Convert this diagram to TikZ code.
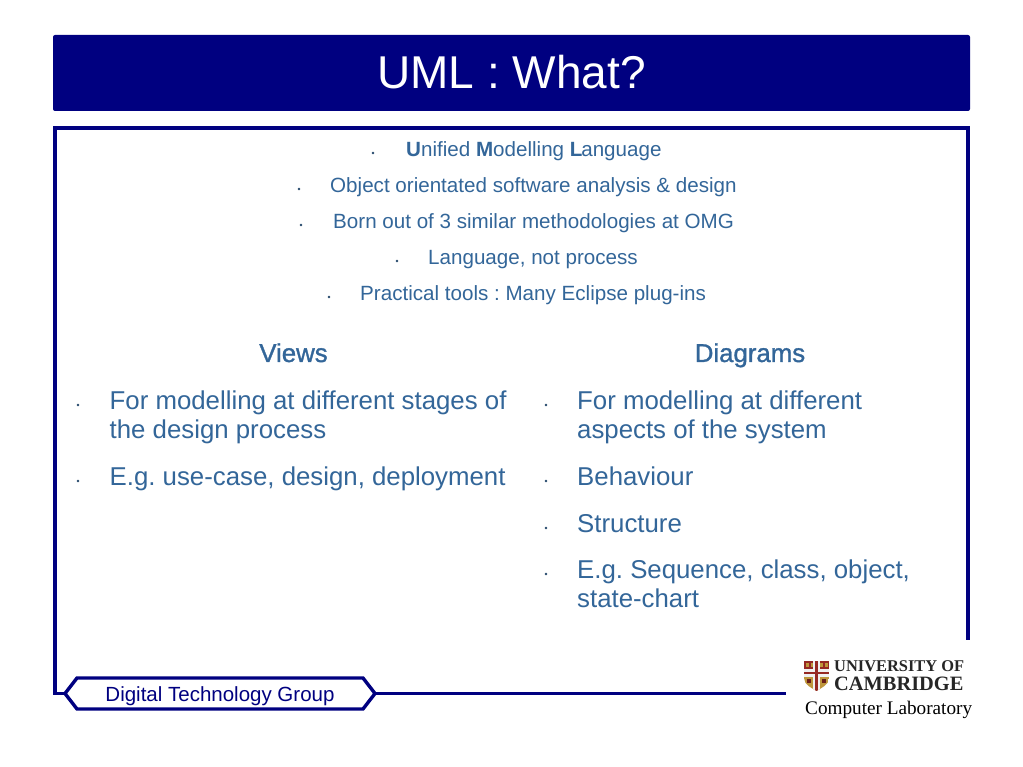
\documentclass[tikz,border=0pt]{standalone}
\usepackage{fontspec}
\setmainfont{Liberation Sans}
\newfontfamily\seriffont{Liberation Serif}
\newfontfamily\fakebold[FakeBold=1.2]{Liberation Sans}
\definecolor{navy}{RGB}{0,0,128}
\definecolor{body}{RGB}{51,102,153}
\definecolor{gold}{RGB}{190,150,60}
\definecolor{shieldred}{RGB}{150,40,35}
\newcommand{\fs}[1]{\fontsize{#1}{#1}\selectfont\frenchspacing}
\tikzset{
  x=1pt,y=-1pt,
  small/.style={anchor=base west,inner sep=0,text=body,font=\fs{20.6}},
  big/.style={anchor=base west,inner sep=0,text=body,font=\fs{25.8}},
  head/.style={anchor=base,inner sep=0,text=body,font=\fakebold\fs{25.8}},
  dot/.style={circle,fill=body!70!black,inner sep=0,minimum size=2.6pt},
  frame/.style={draw=navy,line width=3.4pt,line join=miter},
}
\begin{document}
\begin{tikzpicture}
\useasboundingbox (0,0) rectangle (1023,767);
\fill[white] (0,0) rectangle (1023,767);
\fill[navy,rounded corners=2pt] (53,35) rectangle (970,111);
\node[anchor=base,inner sep=0,text=white,font=\fs{46}] (title) at (511.5,89) {UML : What?};

% top list
\node[dot] (b1) at (373,153) {};
\node[small] (t1) at (406,157) {\textbf{U}nified \textbf{M}odelling \textbf{L}\kern-1.2pt anguage};
\node[dot] (b2) at (299,189) {};
\node[small] (t2) at (330,193) {Object orientated software analysis \& design};
\node[dot] (b3) at (301,225) {};
\node[small] (t3) at (333,229) {Born out of 3 similar methodologies at OMG};
\node[dot] (b4) at (397,261) {};
\node[small] (t4) at (428,265) {Language, not process};
\node[dot] (b5) at (329,297) {};
\node[small] (t5) at (360,301) {Practical tools : Many Eclipse plug-ins};

% columns
\node[head] (vh) at (293.5,362) {Views};
\node[head] (dh) at (750,362) {Diagrams};

\node[dot] (vb1) at (78,405) {};
\node[big] (v1) at (109.5,409) {For modelling at different stages of};
\node[big] (v1b) at (109.5,438) {the design process};
\node[dot] (vb2) at (78,481) {};
\node[big] (v2) at (109.5,485) {E.g. use-case, design, deployment};

\node[dot] (db1) at (546,405) {};
\node[big] (d1) at (577,409) {For modelling at different};
\node[big] (d1b) at (577,438) {aspects of the system};
\node[dot] (db2) at (546,481) {};
\node[big] (d2) at (577,485) {Behaviour};
\node[dot] (db3) at (546,528) {};
\node[big] (d3) at (577,532) {Structure};
\node[dot] (db4) at (546,574) {};
\node[big] (d4) at (577,578) {E.g. Sequence, class, object,};
\node[big] (d4b) at (577,607) {state-chart};

% footer frame
\coordinate (hexW) at (65,693.5);
\coordinate (hexE) at (375,693.5);
\coordinate (frameEnd) at (968,640);
\coordinate (lineEnd) at (786,693.5);
\draw[frame] (hexW) -- (55,693.5) -- (55,128) -- (968,128) -- (frameEnd);
\draw[frame] (hexE) -- (lineEnd);
\draw[frame] (hexW) -- (77,678) -- (363,678) -- (hexE) -- (363,709) -- (77,709) -- cycle;
\node[inner sep=0,anchor=base,text=navy,font=\fs{20.5}] (dtg) at (220,701) {Digital Technology Group};

% logo
\begin{scope}
\clip (804,661) -- (829,661) -- (829,678) .. controls (829,685) and (821,688) .. (816.5,691) .. controls (812,688) and (804,685) .. (804,678) -- cycle;
\fill[gold] (804,661) rectangle (829,691);
\fill[shieldred] (804,661) rectangle (829,669);
\foreach \px in {806,811,820,825}{\fill[gold] (\px,663) rectangle +(2.5,3.5);}
\fill[white!88!gray] (804,669) rectangle (829,677);
\fill[white!88!gray] (813,661) rectangle (820,691);
\fill[shieldred] (815.3,661) rectangle (817.7,691);
\fill[shieldred] (804,671.8) rectangle (829,674.2);
\fill[shieldred!70!black] (807,679) rectangle (811,683);
\fill[shieldred!70!black] (822,679) rectangle (826,683);
\end{scope}
\node[inner sep=0,anchor=base west,text=black!85,font=\seriffont\bfseries\fs{16.4}] (uni) at (834,671) {UNIVERSITY OF};
\node[inner sep=0,anchor=base west,text=black!85,font=\seriffont\bfseries\fs{20.4}] (cam) at (834,690) {CAMBRIDGE};
\node[inner sep=0,anchor=base west,text=black,font=\seriffont\fs{19.2}] (lab) at (805,714) {Computer Laboratory};
\end{tikzpicture}
\end{document}
